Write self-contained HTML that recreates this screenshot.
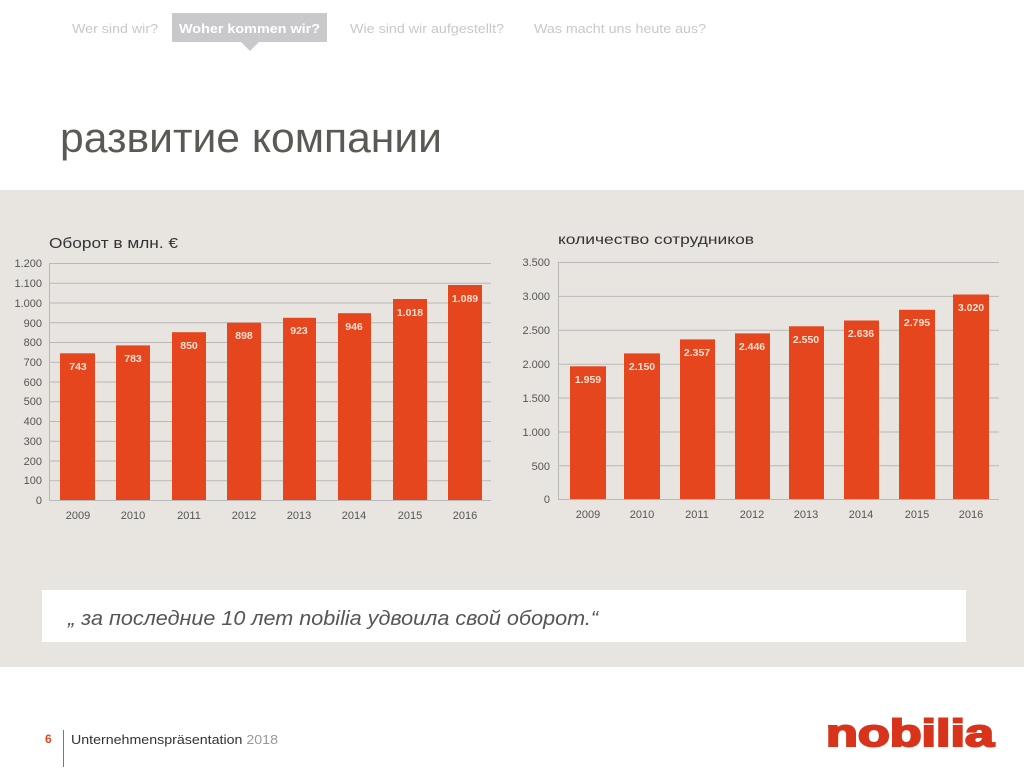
<!DOCTYPE html>
<html><head><meta charset="utf-8"><style>
body{margin:0;width:1024px;height:767px;overflow:hidden;background:#fff;font-family:"Liberation Sans",sans-serif}
</style></head><body>
<svg width="1024" height="767" xmlns="http://www.w3.org/2000/svg" font-family="Liberation Sans, sans-serif">
<rect width="1024" height="767" fill="#fff"/>
<g font-size="12.5" fill="#c8c8c8">
<text x="72" y="33" textLength="86" lengthAdjust="spacingAndGlyphs">Wer sind wir?</text>
<text x="350" y="33" textLength="154" lengthAdjust="spacingAndGlyphs">Wie sind wir aufgestellt?</text>
<text x="534" y="33" textLength="172" lengthAdjust="spacingAndGlyphs">Was macht uns heute aus?</text>
</g>
<rect x="172" y="13" width="155" height="29" fill="#c9c9cb"/>
<polygon points="241,42 259,42 250,51" fill="#c9c9cb"/>
<text x="179" y="33" font-size="12.5" font-weight="bold" fill="#fff" textLength="141" lengthAdjust="spacingAndGlyphs">Woher kommen wir?</text>
<text x="60" y="152" font-size="42" fill="#5a5a55" textLength="382" lengthAdjust="spacingAndGlyphs">развитие компании</text>
<rect x="0" y="190" width="1024" height="477" fill="#e8e5e0"/>
<text x="49" y="248" font-size="15" fill="#333" textLength="129" lengthAdjust="spacingAndGlyphs">Оборот в млн. €</text>
<text x="558" y="244" font-size="14" fill="#333" textLength="196" lengthAdjust="spacingAndGlyphs">количество сотрудников</text>
<g stroke="#b8b8b8" stroke-width="1">
<line x1="49" y1="263.5" x2="491" y2="263.5"/><line x1="49" y1="283.3" x2="491" y2="283.3"/><line x1="49" y1="303" x2="491" y2="303"/><line x1="49" y1="322.8" x2="491" y2="322.8"/><line x1="49" y1="342.5" x2="491" y2="342.5"/><line x1="49" y1="362.3" x2="491" y2="362.3"/><line x1="49" y1="382" x2="491" y2="382"/><line x1="49" y1="401.8" x2="491" y2="401.8"/><line x1="49" y1="421.5" x2="491" y2="421.5"/><line x1="49" y1="441.3" x2="491" y2="441.3"/><line x1="49" y1="461" x2="491" y2="461"/><line x1="49" y1="480.8" x2="491" y2="480.8"/><line x1="49" y1="500.5" x2="491" y2="500.5"/>
<line x1="49.5" y1="263" x2="49.5" y2="500"/>
<line x1="558" y1="262.5" x2="999" y2="262.5"/><line x1="558" y1="296.4" x2="999" y2="296.4"/><line x1="558" y1="330.3" x2="999" y2="330.3"/><line x1="558" y1="364.2" x2="999" y2="364.2"/><line x1="558" y1="398" x2="999" y2="398"/><line x1="558" y1="432" x2="999" y2="432"/><line x1="558" y1="465.8" x2="999" y2="465.8"/><line x1="558" y1="499.5" x2="999" y2="499.5"/>
<line x1="558.5" y1="262" x2="558.5" y2="499"/>
</g>
<g font-size="11" fill="#555" text-anchor="end">
<text x="42" y="267">1.200</text><text x="42" y="287">1.100</text><text x="42" y="307">1.000</text><text x="42" y="327">900</text><text x="42" y="346">800</text><text x="42" y="366">700</text><text x="42" y="386">600</text><text x="42" y="405">500</text><text x="42" y="425">400</text><text x="42" y="445">300</text><text x="42" y="465">200</text><text x="42" y="484">100</text><text x="42" y="504">0</text>
<text x="550" y="266">3.500</text><text x="550" y="300">3.000</text><text x="550" y="334">2.500</text><text x="550" y="368">2.000</text><text x="550" y="402">1.500</text><text x="550" y="436">1.000</text><text x="550" y="470">500</text><text x="550" y="503">0</text>
</g>
<g fill="#e5461e">
<rect x="60" y="353.3" width="35" height="146.7"/><rect x="116" y="345.4" width="34" height="154.6"/><rect x="172" y="332.2" width="34" height="167.8"/><rect x="227" y="322.7" width="34" height="177.3"/><rect x="283" y="317.8" width="33" height="182.2"/><rect x="338" y="313.2" width="33" height="186.8"/><rect x="393" y="299" width="34" height="201"/><rect x="448" y="285" width="34" height="215"/>
<rect x="570" y="366.3" width="36" height="132.7"/><rect x="624" y="353.4" width="36" height="145.6"/><rect x="680" y="339.4" width="35" height="159.6"/><rect x="735" y="333.4" width="35" height="165.6"/><rect x="789" y="326.3" width="35" height="172.7"/><rect x="844" y="320.5" width="35" height="178.5"/><rect x="899" y="309.8" width="36" height="189.2"/><rect x="953" y="294.5" width="36" height="204.5"/>
</g>
<g font-size="10.5" font-weight="bold" fill="#fbe0d0" text-anchor="middle">
<text x="78" y="370">743</text><text x="133" y="362">783</text><text x="189" y="349">850</text><text x="244" y="339">898</text><text x="299" y="334">923</text><text x="354" y="330">946</text><text x="410" y="316">1.018</text><text x="465" y="302">1.089</text>
<text x="588" y="383">1.959</text><text x="642" y="370">2.150</text><text x="697" y="356">2.357</text><text x="752" y="350">2.446</text><text x="806" y="343">2.550</text><text x="861" y="337">2.636</text><text x="917" y="326">2.795</text><text x="971" y="311">3.020</text>
</g>
<g font-size="11" fill="#555" text-anchor="middle">
<text x="78" y="519">2009</text><text x="133" y="519">2010</text><text x="189" y="519">2011</text><text x="244" y="519">2012</text><text x="299" y="519">2013</text><text x="354" y="519">2014</text><text x="410" y="519">2015</text><text x="465" y="519">2016</text>
<text x="588" y="518">2009</text><text x="642" y="518">2010</text><text x="697" y="518">2011</text><text x="752" y="518">2012</text><text x="806" y="518">2013</text><text x="861" y="518">2014</text><text x="917" y="518">2015</text><text x="971" y="518">2016</text>
</g>
<rect x="42" y="590" width="924" height="52" fill="#fff"/>
<text x="68" y="625" font-size="20" font-style="italic" fill="#555" textLength="530" lengthAdjust="spacingAndGlyphs">„ за последние 10 лет nobilia удвоила свой оборот.“</text>
<text x="45" y="743" font-size="12" font-weight="bold" fill="#e5461e">6</text>
<line x1="63.5" y1="730" x2="63.5" y2="767" stroke="#777"/>
<text x="71" y="744" font-size="13" fill="#333" textLength="207" lengthAdjust="spacingAndGlyphs">Unternehmenspräsentation <tspan fill="#999">2018</tspan></text>
<text x="826" y="746" font-size="38" font-weight="bold" fill="#d8331b" stroke="#d8331b" stroke-width="2" textLength="168" lengthAdjust="spacingAndGlyphs">nobilia</text>
</svg>
</body></html>
